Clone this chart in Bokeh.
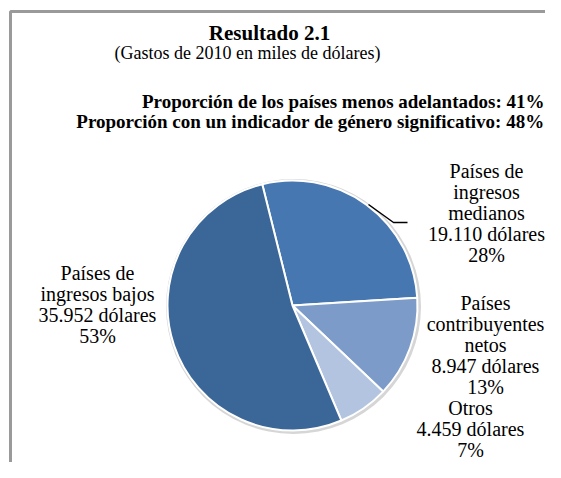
import math
from bokeh.plotting import figure
from bokeh.models import Range1d
from bokeh.core.properties import value
from bokeh.embed import file_html
from bokeh.resources import INLINE

# ---- data ----
title = "Resultado 2.1"
subtitle = "(Gastos de 2010 en miles de dólares)"
notes = ["Proporción de los países menos adelantados: 41%",
         "Proporción con un indicador de género significativo: 48%"]
categories = ["Países de ingresos medianos", "Países contribuyentes netos",
              "Otros", "Países de ingresos bajos"]
name_lines = [["Países de", "ingresos", "medianos"],
              ["Países", "contribuyentes", "netos"],
              ["Otros"],
              ["Países de", "ingresos bajos"]]
values = [19110, 8947, 4459, 35952]
percents = [28, 13, 7, 53]
colors = ["#4677B0", "#7C9BC9", "#B3C4E1", "#3B6698"]

# ---- layout (picture pixels) ----
W, H = 545, 462
def px(x):
    return x
def py(y):
    return H - y

cx, cy, r = 292, 305, 125
start_deg = 104
label_x = [486, 485, 470, 97]
label_y0 = [170, 302, 407, 272]
gap = 21
serif = value("Liberation Serif")

p = figure(width=W, height=H, x_range=Range1d(0, W), y_range=Range1d(0, H),
           output_backend="svg", toolbar_location=None, min_border=0)
p.axis.visible = False
p.grid.visible = False
p.outline_line_color = None
p.background_fill_color = "white"
p.border_fill_color = "white"

# frame
p.line([px(10), px(10), px(600)], [py(500), py(11), py(11)],
       line_color="#9a9a9a", line_width=3)

# pie shadow
p.circle([px(cx + 1)], [py(cy + 1)], radius=r + 2.5,
         fill_color="#d6d6d6", line_color=None)

total = sum(values)
a = math.radians(start_deg)
starts, ends = [], []
for v in values:
    starts.append(a)
    a = a - v / total * 2 * math.pi
    ends.append(a)

p.wedge(x=[px(cx)] * len(values), y=[py(cy)] * len(values), radius=r,
        start_angle=starts, end_angle=ends, direction="clock",
        fill_color=colors, line_color="white", line_width=2)

# leader line
p.line([px(368), px(393), px(407)], [py(204), py(222), py(222)],
       line_color="black", line_width=1.5)

# titles
p.text([px(269)], [py(32)], text=[title], text_align="center",
       text_baseline="middle", text_font=serif, text_font_size="21px",
       text_font_style="bold", text_color="black")
p.text([px(247)], [py(52)], text=[subtitle], text_align="center",
       text_baseline="middle", text_font=serif, text_font_size="18px",
       text_color="black")
for i, n in enumerate(notes):
    p.text([px(544)], [py(101 + 20 * i)], text=[n], text_align="right",
           text_baseline="middle", text_font=serif, text_font_size="19px",
           text_font_style="bold", text_color="black")

# slice labels
for i in range(len(values)):
    lines = name_lines[i] + [f"{values[i]:,}".replace(",", ".") + " dólares",
                             f"{percents[i]}%"]
    xs = [px(label_x[i])] * len(lines)
    ys = [py(label_y0[i] + gap * k) for k in range(len(lines))]
    p.text(xs, ys, text=lines, text_align="center", text_baseline="middle",
           text_font=serif, text_font_size="20px", text_color="black")

open("out.html", "w").write(file_html(p, INLINE))
